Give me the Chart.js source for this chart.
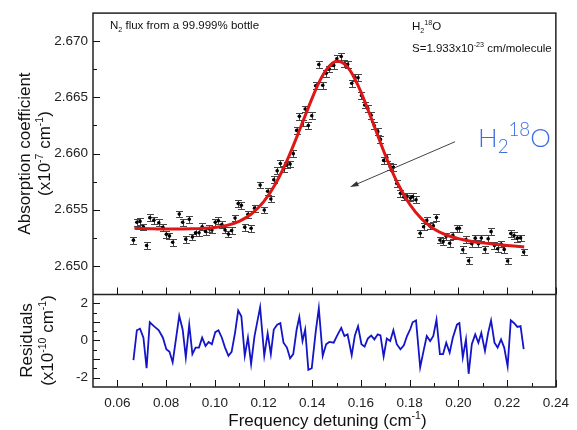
<!DOCTYPE html>
<html>
<head>
<meta charset="utf-8">
<script src="https://cdn.jsdelivr.net/npm/chart.js@4.4.0/dist/chart.umd.min.js"></script>
<style>
  html, body { margin: 0; padding: 0; background: #fff; }
</style>
</head>
<body>
<canvas id="chart" width="577" height="430"></canvas>
<script>
// Frequency detuning of each measured point (cm-1)
const detuning = [
  0.0666, 0.0680, 0.0693, 0.0707, 0.0720, 0.0733, 0.0750, 0.0770, 0.0787, 0.0801,
  0.0814, 0.0827, 0.0854, 0.0868, 0.0881, 0.0895, 0.0908, 0.0921, 0.0935, 0.0948,
  0.0962, 0.0975, 0.0988, 0.1002, 0.1015, 0.1029, 0.1042, 0.1056, 0.1069, 0.1083,
  0.1096, 0.1109, 0.1123, 0.1136, 0.1149, 0.1163, 0.1186, 0.1203, 0.1217, 0.1230,
  0.1242, 0.1256, 0.1269, 0.1282, 0.1296, 0.1309, 0.1322, 0.1336, 0.1347, 0.1360,
  0.1371, 0.1384, 0.1398, 0.1414, 0.1427, 0.1443, 0.1457, 0.1470, 0.1488, 0.1501,
  0.1519, 0.1532, 0.1545, 0.1562, 0.1575, 0.1588, 0.1602, 0.1615, 0.1628, 0.1642,
  0.1655, 0.1669, 0.1680, 0.1693, 0.1706, 0.1720, 0.1733, 0.1747, 0.1762, 0.1776,
  0.1789, 0.1803, 0.1812, 0.1826, 0.1843, 0.1857, 0.1870, 0.1884, 0.1897, 0.1910,
  0.1924, 0.1937, 0.1950, 0.1964, 0.1977, 0.1994, 0.2004, 0.2018, 0.2031, 0.2042,
  0.2055, 0.2069, 0.2082, 0.2094, 0.2109, 0.2122, 0.2134, 0.2148, 0.2161, 0.2175,
  0.2188, 0.2202, 0.2215, 0.2228, 0.2242, 0.2255, 0.2268
];

// Absorption coefficient (x1e-7 cm-1)
const absorption = [
  2.65229, 2.65388, 2.65396, 2.65347, 2.65182, 2.65429, 2.65407, 2.65384, 2.65343, 2.65281,
  2.65267, 2.65211, 2.65461, 2.65388, 2.65238, 2.65415, 2.65258, 2.65294, 2.65295, 2.65349,
  2.65307, 2.65330, 2.65320, 2.65388, 2.65402, 2.65368, 2.65320, 2.65283, 2.65314, 2.65426,
  2.65555, 2.65539, 2.65345, 2.65459, 2.65335, 2.65514, 2.65719, 2.65498, 2.65664, 2.65595,
  2.65767, 2.65846, 2.65912, 2.65863, 2.65899, 2.65907, 2.65999, 2.66206, 2.66331, 2.66273,
  2.66396, 2.66250, 2.66336, 2.66604, 2.66792, 2.66608, 2.66715, 2.66753, 2.66785, 2.66843,
  2.66864, 2.66802, 2.66794, 2.66626, 2.66678, 2.66674, 2.66517, 2.66432, 2.66402, 2.66341,
  2.66248, 2.66195, 2.66126, 2.65939, 2.65965, 2.65883, 2.65877, 2.65733, 2.65646, 2.65614,
  2.65615, 2.65604, 2.65615, 2.65588, 2.65291, 2.65348, 2.65405, 2.65354, 2.65358, 2.65430,
  2.65230, 2.65216, 2.65263, 2.65201, 2.65273, 2.65332, 2.65335, 2.65144, 2.65235, 2.65045,
  2.65198, 2.65247, 2.65198, 2.65248, 2.65147, 2.65241, 2.65305, 2.65181, 2.65153, 2.65194,
  2.65147, 2.65043, 2.65288, 2.65271, 2.65247, 2.65249, 2.65123
];

// Residuals (x1e-10 cm-1)
const residuals = [
  -1.05, 0.55, 0.63, 0.15, -1.49, 0.98, 0.77, 0.55, 0.15, -0.47,
  -0.61, -1.17, 1.33, 0.59, -0.91, 0.85, -0.73, -0.38, -0.38, 0.15,
  -0.29, -0.08, -0.20, 0.45, 0.55, 0.15, -0.38, -0.82, -0.61, 0.41,
  1.61, 1.30, -0.82, 0.15, -1.26, 0.24, 1.79, -0.82, 0.38, -0.73,
  0.59, 0.85, 0.94, -0.12, -0.38, -0.96, -0.73, 0.59, 1.26, -0.03,
  0.59, -1.58, -1.49, 0.45, 1.74, -0.82, -0.20, -0.08, -0.12, 0.24,
  0.68, 0.24, 0.33, -0.79, 0.27, 0.77, -0.20, -0.33, 0.10, 0.27,
  0.06, 0.33, 0.27, -0.86, 0.10, -0.03, 0.55, -0.20, -0.47, -0.26,
  0.24, 0.63, 0.98, 1.08, -1.44, -0.56, 0.24, -0.03, 0.24, 1.12,
  -0.73, -0.73, -0.12, -0.65, 0.15, 0.85, 0.94, -0.91, 0.06, -1.79,
  -0.20, 0.33, -0.12, 0.41, -0.56, 0.41, 1.08, -0.12, -0.38, 0.06,
  -0.38, -1.39, 1.08, 0.94, 0.73, 0.77, -0.47
];

// Fitted profile (red line)
const fitX = [
  0.067, 0.070, 0.075, 0.080, 0.085, 0.090, 0.095, 0.100, 0.105, 0.110,
  0.115, 0.120, 0.125, 0.130, 0.135, 0.140, 0.1425, 0.145, 0.1475, 0.150,
  0.1525, 0.155, 0.1575, 0.160, 0.165, 0.170, 0.175, 0.180, 0.185, 0.190,
  0.195, 0.200, 0.205, 0.210, 0.215, 0.220, 0.225, 0.227
];
const fitY = [
  2.65334, 2.65332, 2.65330, 2.65328, 2.65328, 2.65330, 2.65334, 2.65342, 2.65361, 2.65397,
  2.65462, 2.65570, 2.65734, 2.65955, 2.66221, 2.66496, 2.66620, 2.66721, 2.66789, 2.66821,
  2.66808, 2.66755, 2.66664, 2.66548, 2.66270, 2.65985, 2.65738, 2.65549, 2.65416, 2.65329,
  2.65275, 2.65243, 2.65220, 2.65205, 2.65193, 2.65182, 2.65173, 2.65169
];

// Half-height of the error bars
const errBar = 0.0003;

// Ticks
const xTicks = [0.06, 0.08, 0.10, 0.12, 0.14, 0.16, 0.18, 0.20, 0.22, 0.24];
const xMinor = [0.07, 0.09, 0.11, 0.13, 0.15, 0.17, 0.19, 0.21, 0.23];
const absTicks = [2.650, 2.655, 2.660, 2.665, 2.670];
const absMinor = [2.6525, 2.6575, 2.6625, 2.6675];
const resTicks = [-2, -1, 0, 1, 2];
const resMinor = [-1.5, -0.5, 0.5, 1.5];

// Arrow pointing at the peak
const arrowFrom = [0.1986, 2.66105];
const arrowTo = [0.1555, 2.65702];

const FONT = "'Liberation Sans', Arial, sans-serif";
const tickFont = { family: FONT, size: 13.5 };

// Text with sub/superscripts: parts = [[text, 'sup'|'sub'|undefined], ...]
function drawRich(ctx, parts, x, y, size, opts) {
  opts = opts || {};
  const family = opts.family || FONT;
  const weight = opts.weight || 'normal';
  const ratio = opts.ratio || 0.62;
  const ps = parts.map((p) => {
    const s = p[1] ? size * ratio : size;
    ctx.font = `${weight} ${s}px ${family}`;
    return { text: p[0], kind: p[1], size: s, w: ctx.measureText(p[0]).width };
  });
  const total = ps.reduce((a, p) => a + p.w, 0);
  let cx = opts.center ? x - total / 2 : x;
  ctx.fillStyle = opts.color || '#111';
  ctx.textAlign = 'left';
  ctx.textBaseline = 'alphabetic';
  ps.forEach((p) => {
    ctx.font = `${weight} ${p.size}px ${family}`;
    const dy = p.kind === 'sup' ? -size * 0.42 : p.kind === 'sub' ? size * 0.22 : 0;
    ctx.fillText(p.text, cx, y + dy);
    cx += p.w;
  });
}

function drawVertical(ctx, parts, baselineX, centerY, size) {
  ctx.save();
  ctx.translate(baselineX, centerY);
  ctx.rotate(-Math.PI / 2);
  drawRich(ctx, parts, 0, 0, size, { center: true });
  ctx.restore();
}

// Error bars under the points
const errorBars = {
  id: 'errorBars',
  beforeDatasetsDraw(chart) {
    const ctx = chart.ctx;
    const xs = chart.scales.x;
    const ys = chart.scales.yAbs;
    ctx.save();
    ctx.strokeStyle = '#444';
    ctx.lineWidth = 1;
    ctx.beginPath();
    detuning.forEach((x, i) => {
      const px = Math.round(xs.getPixelForValue(x)) + 0.5;
      const y1 = Math.round(ys.getPixelForValue(absorption[i] + errBar)) + 0.5;
      const y2 = Math.round(ys.getPixelForValue(absorption[i] - errBar)) + 0.5;
      ctx.moveTo(px, y1); ctx.lineTo(px, y2);
      ctx.moveTo(px - 3.5, y1); ctx.lineTo(px + 3.5, y1);
      ctx.moveTo(px - 3.5, y2); ctx.lineTo(px + 3.5, y2);
    });
    ctx.stroke();
    ctx.restore();
  },
};

// Frame, inward ticks, titles and notes
const decorations = {
  id: 'decorations',
  afterDraw(chart) {
    const ctx = chart.ctx;
    const ca = chart.chartArea;
    const xs = chart.scales.x;
    const ya = chart.scales.yAbs;
    const yr = chart.scales.yRes;
    const split = Math.round(ya.bottom) + 0.5;

    ctx.save();
    // ticks
    ctx.strokeStyle = '#111';
    ctx.lineWidth = 1;
    ctx.beginPath();
    const xLine = (vals, len) => vals.forEach((v) => {
      const px = Math.round(xs.getPixelForValue(v)) + 0.5;
      [ca.bottom, split].forEach((edge) => {
        ctx.moveTo(px, edge);
        ctx.lineTo(px, edge - len);
      });
    });
    const yLine = (scale, vals, len) => vals.forEach((v) => {
      const py = Math.round(scale.getPixelForValue(v)) + 0.5;
      ctx.moveTo(ca.left, py);
      ctx.lineTo(ca.left + len, py);
    });
    xLine(xTicks, 7);
    xLine(xMinor, 4);
    yLine(ya, absTicks, 7);
    yLine(ya, absMinor, 4);
    yLine(yr, resTicks, 7);
    yLine(yr, resMinor, 4);
    ctx.stroke();

    // frame
    ctx.strokeStyle = '#222';
    ctx.lineWidth = 1.5;
    ctx.strokeRect(ca.left, ca.top, ca.right - ca.left, ca.bottom - ca.top);
    ctx.beginPath();
    ctx.moveTo(ca.left, split);
    ctx.lineTo(ca.right, split);
    ctx.stroke();

    // axis titles
    const midAbs = (ya.top + ya.bottom) / 2;
    const midRes = (yr.top + yr.bottom) / 2;
    drawVertical(ctx, [['Absorption coefficient']], 30, midAbs, 17);
    drawVertical(ctx, [['(x10'], ['-7', 'sup'], [' cm'], ['-1', 'sup'], [')']], 50, midAbs, 17);
    drawVertical(ctx, [['Residuals']], 32, midRes, 17);
    drawVertical(ctx, [['(x10'], ['-10', 'sup'], [' cm'], ['-1', 'sup'], [')']], 53, midRes, 17);
    drawRich(ctx, [['Frequency detuning (cm'], ['-1', 'sup'], [')']],
      (ca.left + ca.right) / 2 + 3, 426, 17, { center: true });

    // notes inside the plot
    drawRich(ctx, [['N'], ['2', 'sub'], [' flux from a 99.999% bottle']], ca.left + 17, 29, 11.5);
    drawRich(ctx, [['H'], ['2', 'sub'], ['18', 'sup'], ['O']], 412, 30, 11.5);
    drawRich(ctx, [['S=1.933x10'], ['-23', 'sup'], [' cm/molecule']], 412, 52, 11.5);

    // big blue label
    drawRich(ctx, [['H'], ['2', 'sub'], ['18', 'sup'], ['O']], 478, 147, 26,
      { family: "Lato, 'Open Sans', sans-serif", weight: '300', color: 'rgb(60,110,225)', ratio: 0.72 });

    // arrow
    const x1 = xs.getPixelForValue(arrowFrom[0]);
    const y1 = ya.getPixelForValue(arrowFrom[1]);
    const x2 = xs.getPixelForValue(arrowTo[0]);
    const y2 = ya.getPixelForValue(arrowTo[1]);
    const ang = Math.atan2(y2 - y1, x2 - x1);
    ctx.strokeStyle = '#444';
    ctx.fillStyle = '#333';
    ctx.lineWidth = 1;
    ctx.beginPath();
    ctx.moveTo(x1, y1);
    ctx.lineTo(x2 - 6 * Math.cos(ang), y2 - 6 * Math.sin(ang));
    ctx.stroke();
    ctx.beginPath();
    ctx.moveTo(x2, y2);
    ctx.lineTo(x2 - 9 * Math.cos(ang - 0.3), y2 - 9 * Math.sin(ang - 0.3));
    ctx.lineTo(x2 - 9 * Math.cos(ang + 0.3), y2 - 9 * Math.sin(ang + 0.3));
    ctx.closePath();
    ctx.fill();
    ctx.restore();
  },
};

const yAxisBase = {
  type: 'linear',
  position: 'left',
  stack: 'panels',
  grid: { display: false, drawTicks: false },
  border: { display: false },
  ticks: { font: tickFont, color: '#222', padding: 5 },
  afterFit: (s) => { s.width = 93; },
};

const chart = new Chart(document.getElementById('chart'), {
  type: 'scatter',
  data: {
    datasets: [
      {
        label: 'Fit',
        type: 'line',
        data: fitX.map((x, i) => ({ x: x, y: fitY[i] })),
        yAxisID: 'yAbs',
        borderColor: 'rgb(222,22,22)',
        borderWidth: 3,
        pointRadius: 0,
        showLine: true,
        fill: false,
        cubicInterpolationMode: 'monotone',
      },
      {
        label: 'Measured',
        data: detuning.map((x, i) => ({ x: x, y: absorption[i] })),
        yAxisID: 'yAbs',
        pointRadius: 1.8,
        pointBackgroundColor: '#000',
        pointBorderWidth: 0,
        showLine: false,
      },
      {
        label: 'Residuals',
        type: 'line',
        data: detuning.map((x, i) => ({ x: x, y: residuals[i] })),
        yAxisID: 'yRes',
        borderColor: 'rgb(20,20,200)',
        borderWidth: 1.8,
        pointRadius: 0,
        showLine: true,
        fill: false,
        tension: 0,
      },
    ],
  },
  options: {
    responsive: false,
    animation: false,
    devicePixelRatio: 1,
    layout: { padding: { left: 0, top: 9, right: 12, bottom: 0 } },
    plugins: { legend: { display: false }, tooltip: { enabled: false } },
    scales: {
      x: {
        type: 'linear',
        min: 0.05,
        max: 0.24,
        grid: { display: false, drawTicks: false },
        border: { display: false },
        afterBuildTicks: (s) => { s.ticks = xTicks.map((v) => ({ value: v })); },
        ticks: {
          font: tickFont,
          color: '#222',
          padding: 8,
          maxRotation: 0,
          autoSkip: false,
          callback: (v) => v.toFixed(2),
        },
        afterFit: (s) => { s.height = 43; },
      },
      // stacked panels: the first axis in the stack is placed at the bottom
      yRes: Object.assign({}, yAxisBase, {
        stackWeight: 1,
        min: -2.5,
        max: 2.5,
        afterBuildTicks: (s) => { s.ticks = resTicks.map((v) => ({ value: v })); },
        ticks: Object.assign({}, yAxisBase.ticks, { callback: (v) => String(v) }),
      }),
      yAbs: Object.assign({}, yAxisBase, {
        stackWeight: 3.02,
        min: 2.6475,
        max: 2.6725,
        afterBuildTicks: (s) => { s.ticks = absTicks.map((v) => ({ value: v })); },
        ticks: Object.assign({}, yAxisBase.ticks, { callback: (v) => v.toFixed(3) }),
      }),
    },
  },
  plugins: [errorBars, decorations],
});
</script>
</body>
</html>
